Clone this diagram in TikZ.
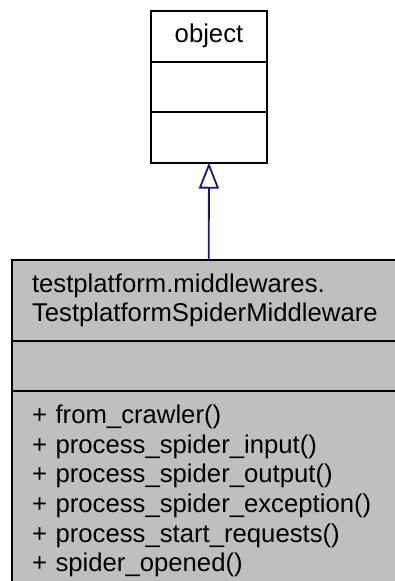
\documentclass[tikz,border=0pt]{standalone}
\usepackage{fontspec}
\setmainfont{Liberation Sans}
\usetikzlibrary{arrows.meta, positioning}
\definecolor{classgray}{HTML}{BFBFBF}
\definecolor{edgeblue}{HTML}{191970}

\begin{document}
\begin{tikzpicture}[x=1pt, y=1pt, node distance=0pt, outer sep=0pt,
        classpart/.style={draw, line width=2pt, inner sep=0pt,
            font=\fontsize{25.7}{29.7}\selectfont},
        objpart/.style={classpart, fill=white, minimum width=116pt, minimum height=50.5pt},
        mwpart/.style={classpart, fill=classgray, minimum width=393.4pt,
            text width=353.4pt, align=left},
        inherit/.style={draw=edgeblue, line width=1.8pt,
            -{Triangle[open, length=26pt, width=20pt]}}]
        \useasboundingbox (0,0) rectangle (395,-581);

        \node[objpart] (obj) at (209,-36.3) {object};
        \node[objpart] (objattr) [below=of obj] {};
        \node[objpart] (objops) [below=of objattr] {};

        \node[mwpart, minimum height=81pt] (mw) at (208.7,-300.5)
            {testplatform.middlewares.\\TestplatformSpiderMiddleware};
        \node[mwpart, minimum height=50pt] (mwattr) [below=of mw] {};
        \node[mwpart, minimum height=200pt] (mwops) [below=of mwattr]
            {+ from\_crawler()\\
             + process\_spider\_input()\\
             + process\_spider\_output()\\
             + process\_spider\_exception()\\
             + process\_start\_requests()\\
             + spider\_opened()};

        \path[inherit]
        (mw) edge (objops);

    \end{tikzpicture}
\end{document}
